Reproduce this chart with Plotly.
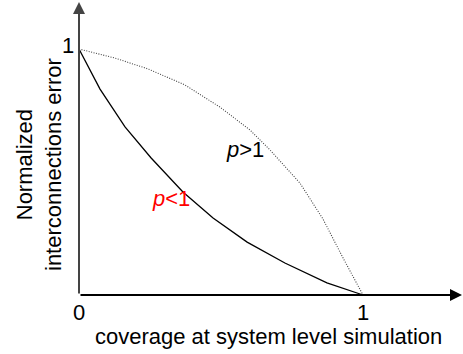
import plotly.graph_objects as go

# Data
x_plt1 = [0, 0.074, 0.162, 0.254, 0.366, 0.472, 0.592, 0.725, 0.873, 1.0]
y_plt1 = [1, 0.837, 0.683, 0.557, 0.419, 0.313, 0.215, 0.130, 0.049, 0.0]

x_pgt1 = [0, 0.127, 0.243, 0.373, 0.496, 0.602, 0.673, 0.732, 0.778, 0.859, 0.930, 1.0]
y_pgt1 = [1, 0.963, 0.919, 0.854, 0.764, 0.671, 0.589, 0.516, 0.455, 0.309, 0.150, 0.0]

x_title = "coverage at system level simulation"
y_title = "Normalized<br>interconnections error"

FONT = "Liberation Sans, Arial, sans-serif"
FS = 22

W, H = 463, 354
# pixel mapping: x=0 -> 79px, x=1 -> 363px ; y=1 -> 49px, y=0 -> 295px
xs = 284.0
ys = 246.0
xmin = -79 / xs
xmax = xmin + W / xs
ymax = 1 + 49 / ys
ymin = ymax - H / ys

def px(p):
    return xmin + p / xs

def py(p):
    return ymax - p / ys

fig = go.Figure()
fig.add_trace(go.Scatter(x=x_pgt1, y=y_pgt1, mode="lines",
                         line=dict(color="#444444", width=1.1, dash="1px,1.5px"),
                         hoverinfo="skip"))
fig.add_trace(go.Scatter(x=x_plt1, y=y_plt1, mode="lines",
                         line=dict(color="black", width=1.3),
                         hoverinfo="skip"))

annotations = [
    # y axis arrow
    dict(x=0, y=py(2), ax=0, ay=0, xref="x", yref="y", axref="x", ayref="y",
         showarrow=True, arrowhead=2, arrowsize=1.2, arrowwidth=2, arrowcolor="#444444", text=""),
    # x axis arrow
    dict(x=px(462), y=0, ax=0, ay=0, xref="x", yref="y", axref="x", ayref="y",
         showarrow=True, arrowhead=2, arrowsize=1.2, arrowwidth=2, arrowcolor="black", text=""),
    dict(x=px(68), y=py(45), text="1", showarrow=False, font=dict(family=FONT, size=FS, color="black")),
    dict(x=px(79), y=py(312), text="0", showarrow=False, font=dict(family=FONT, size=FS, color="black")),
    dict(x=px(363), y=py(312), text="1", showarrow=False, font=dict(family=FONT, size=FS, color="black")),
    dict(x=px(268), y=py(336), text=x_title, showarrow=False, font=dict(family=FONT, size=FS, color="black")),
    dict(x=px(39), y=py(165), text=y_title, textangle=-90, showarrow=False,
         font=dict(family=FONT, size=FS, color="black")),
    dict(x=px(245), y=py(149), text="<i>p</i>>1", showarrow=False, font=dict(family=FONT, size=FS, color="black")),
    dict(x=px(171), y=py(198), text="<i>p</i><1", showarrow=False, font=dict(family=FONT, size=FS, color="red")),
]

fig.update_layout(
    width=W, height=H,
    margin=dict(l=0, r=0, t=0, b=0),
    paper_bgcolor="white", plot_bgcolor="white",
    showlegend=False,
    xaxis=dict(range=[xmin, xmax], visible=False, fixedrange=True),
    yaxis=dict(range=[ymin, ymax], visible=False, fixedrange=True),
    annotations=annotations,
)

fig.write_html("out.html", config={"displayModeBar": False},
               post_script="document.body.style.margin='0';document.body.style.overflow='hidden';")
